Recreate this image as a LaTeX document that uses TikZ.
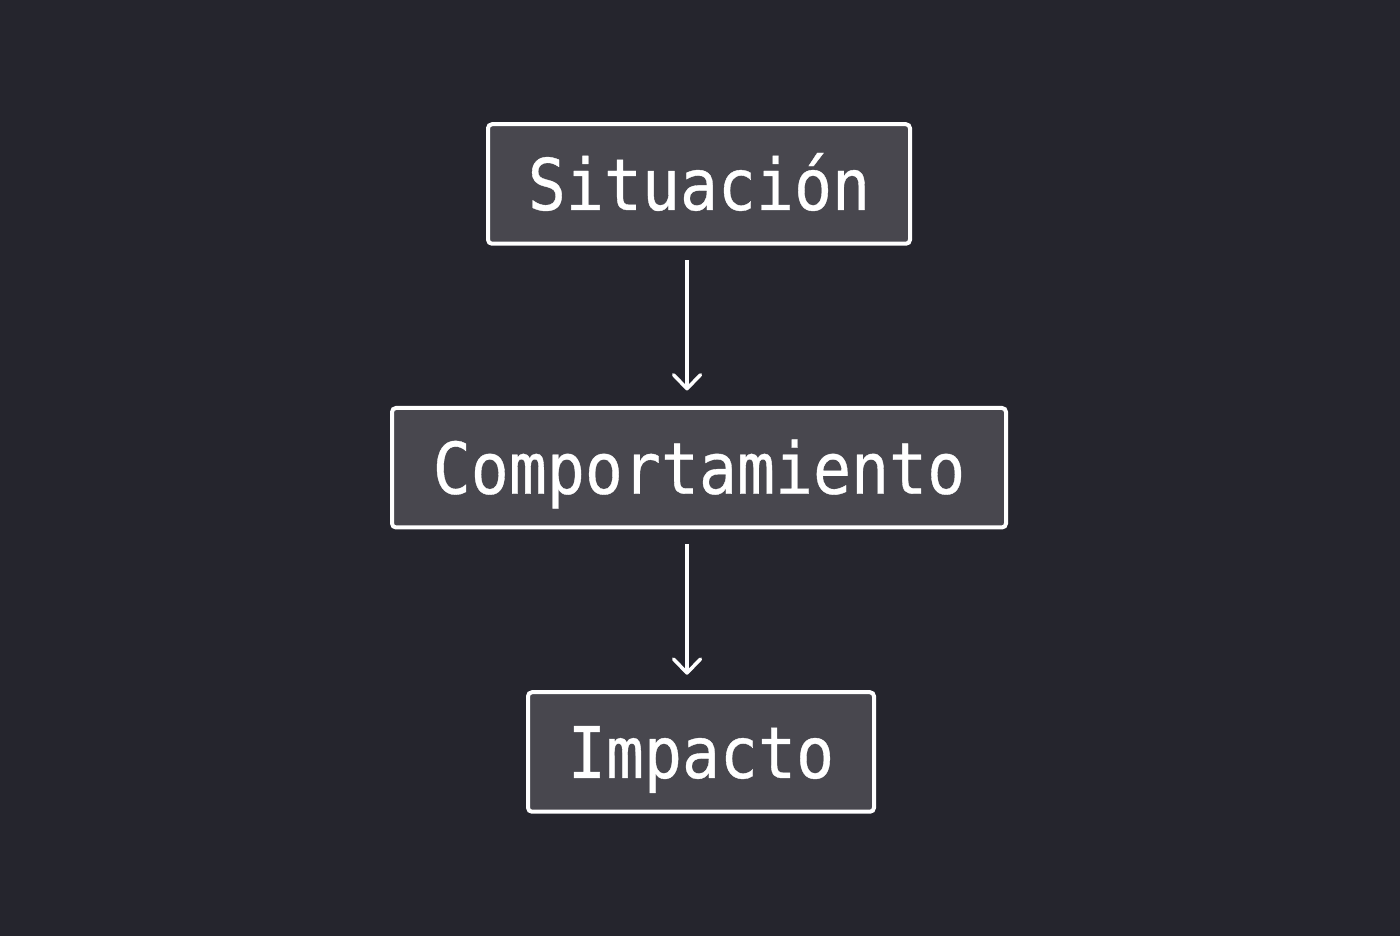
\documentclass[tikz,border=0pt]{standalone}
\usepackage{fontspec}
\usetikzlibrary{arrows.meta}
\newfontfamily\boxfont{DejaVu Sans Mono}[FakeStretch=0.886,FakeBold=0.5]
\definecolor{bgc}{HTML}{25252D}
\definecolor{boxc}{HTML}{48474E}
\begin{document}
\begin{tikzpicture}[x=1pt,y=1pt,
  stepbox/.style={draw=white, line width=4pt, fill=boxc, rounded corners=4pt,
    minimum height=119.5pt, inner sep=0pt, text=white,
    font=\boxfont\fontsize{71.3}{80}\selectfont, text height=52pt, text depth=0pt},
  flow/.style={draw=white, line width=3.5pt,
    -{Straight Barb[length=14pt,width=27pt,round]},
    shorten <=14.5pt, shorten >=15.5pt}]
\fill[bgc] (0,0) rectangle (1400,936);
\useasboundingbox (0,0) rectangle (1400,936);
\node[stepbox, minimum width=422pt] (s) at (699,752) {Situación};
\node[stepbox, minimum width=614pt] (c) at (699,468.25) {Comportamiento};
\node[stepbox, minimum width=346pt] (i) at (701,184) {Impacto};
\coordinate (ax) at (687,0);
\draw[flow] (s.south -| ax) -- (c.north -| ax);
\draw[flow] (c.south -| ax) -- (i.north -| ax);
\end{tikzpicture}
\end{document}
